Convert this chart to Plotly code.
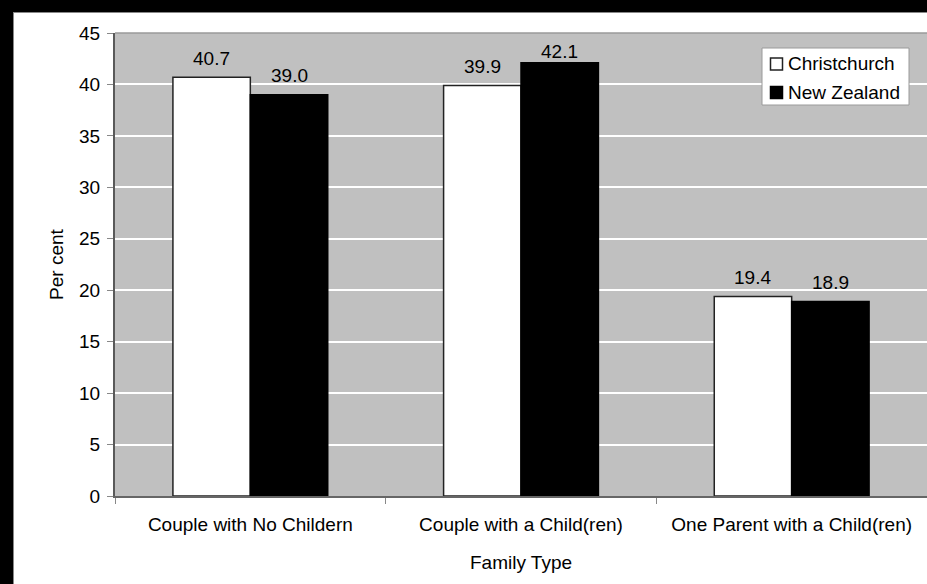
import plotly.graph_objects as go

# Family type shares (per cent) for Christchurch and New Zealand
family_types = ["Couple with No Childern", "Couple with a Child(ren)", "One Parent with a Child(ren)"]
series_names = ["Christchurch", "New Zealand"]
christchurch = [40.7, 39.9, 19.4]
new_zealand = [39.0, 42.1, 18.9]
y_ticks = [0, 5, 10, 15, 20, 25, 30, 35, 40, 45]

W, H = 927, 584
L, R, T, B = 115, 0, 33, 88
Y_MAX = 45
BARGAP = 0.428
FONT = "Liberation Sans, Arial, sans-serif"
FS = 19

pw = W - L - R
ph = H - T - B


def px_x(x):
    return (x - L) / pw


def px_y(y):
    return (H - B - y) / ph


fills = ["white", "black"]
edges = ["#222222", "black"]
values = [christchurch, new_zealand]

fig = go.Figure()
for name, vals, fc, ec in zip(series_names, values, fills, edges):
    fig.add_trace(go.Bar(
        name=name, x=family_types, y=vals,
        marker=dict(color=fc, line=dict(color=ec, width=1.5)),
        showlegend=False,
    ))

# value labels above each bar, kept inside the top of the plot
bar_px = pw / len(family_types) * (1 - BARGAP) / len(series_names)
annotations = []
for si, vals in enumerate(values):
    xshift = (si - (len(series_names) - 1) / 2) * bar_px
    for cat, v in zip(family_types, vals):
        top_px = ph * v / Y_MAX
        lift = min(19, ph - 18 - top_px)
        annotations.append(dict(
            x=cat, y=v, xref="x", yref="y", text=f"{v:.1f}", showarrow=False,
            xshift=xshift, yshift=lift, yanchor="middle",
            font=dict(size=FS, color="black", family=FONT),
        ))

shapes = []
# dark frame round the chart (top and left edges)
for f in [dict(x0=px_x(0), x1=px_x(W), y0=px_y(12), y1=px_y(0)),
          dict(x0=px_x(0), x1=px_x(13), y0=px_y(H), y1=px_y(0))]:
    shapes.append(dict(type="rect", xref="paper", yref="paper", layer="above",
                       fillcolor="black", line=dict(width=0), **f))
shapes.append(dict(type="line", xref="paper", yref="paper",
                   x0=px_x(13), x1=px_x(W), y0=px_y(12.5), y1=px_y(12.5),
                   line=dict(color="#888888", width=1)))
shapes.append(dict(type="line", xref="paper", yref="paper",
                   x0=px_x(13.5), x1=px_x(13.5), y0=px_y(H), y1=px_y(12),
                   line=dict(color="#888888", width=1)))
# thin border along the top of the plot area
shapes.append(dict(type="line", xref="paper", yref="paper", layer="below",
                   x0=0, x1=1, y0=1, y1=1, line=dict(color="#9a9a9a", width=1.5)))

# legend box with swatches
shapes.append(dict(type="rect", xref="paper", yref="paper",
                   x0=px_x(762), x1=px_x(909), y0=px_y(105), y1=px_y(48),
                   fillcolor="white", line=dict(color="#9a9a9a", width=1)))
for i, (name, fc, ec) in enumerate(zip(series_names, fills, edges)):
    cy = 64 + 28.5 * i
    shapes.append(dict(type="rect", xref="paper", yref="paper",
                       x0=px_x(770.5), x1=px_x(782.5), y0=px_y(cy + 6), y1=px_y(cy - 6),
                       fillcolor=fc, line=dict(color=ec, width=1.5)))
    annotations.append(dict(
        x=px_x(786), y=px_y(cy), xref="paper", yref="paper", text=name,
        showarrow=False, xanchor="left", yanchor="middle",
        font=dict(size=FS, color="black", family=FONT),
    ))

fig.update_layout(
    width=W, height=H,
    margin=dict(l=L, r=R, t=T, b=B),
    paper_bgcolor="white", plot_bgcolor="#C0C0C0",
    font=dict(family=FONT, size=FS, color="black"),
    barmode="group", bargap=BARGAP, bargroupgap=0,
    showlegend=False,
    shapes=shapes, annotations=annotations,
    xaxis=dict(
        showgrid=False, showline=True, linecolor="#666666", linewidth=1.5,
        ticks="outside", tickson="boundaries", ticklen=6, tickcolor="#888888",
        ticklabelstandoff=10,
        tickfont=dict(size=FS), title=dict(text="Family Type", standoff=22, font=dict(size=FS)),
    ),
    yaxis=dict(
        range=[0, Y_MAX], tickvals=y_ticks, showgrid=True, gridcolor="white", gridwidth=1.5,
        showline=True, linecolor="#5a5a5a", linewidth=2, zeroline=False,
        ticks="outside", ticklen=6, tickcolor="#888888", ticklabelstandoff=3,
        tickfont=dict(size=FS), title=dict(text="Per cent", standoff=10, font=dict(size=FS)),
    ),
)

fig.write_html("out.html")
